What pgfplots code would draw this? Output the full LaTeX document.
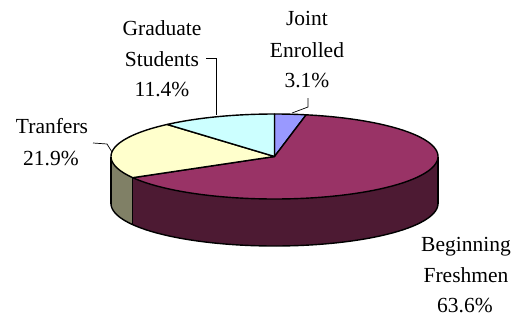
\documentclass[border=0pt]{standalone}
\usepackage{fontspec}
\setmainfont{Liberation Serif}
\usepackage{pgfplots}
\pgfplotsset{compat=1.18}
\usepackage{pgfplotstable}
\usepgfplotslibrary{fillbetween}

\definecolor{cJoint}{HTML}{9999FF}
\definecolor{cFresh}{HTML}{993366}
\definecolor{cTran}{HTML}{FFFFCC}
\definecolor{cGrad}{HTML}{CCFFFF}
\definecolor{sFresh}{HTML}{4D1A33}
\definecolor{sTran}{HTML}{808066}

\pgfplotstableread{
label value
Joint 3.1
Freshmen 63.6
Tranfers 21.9
Graduate 11.4
}\piedata
\pgfplotstablegetelem{0}{value}\of\piedata \let\vJ\pgfplotsretval
\pgfplotstablegetelem{1}{value}\of\piedata \let\vF\pgfplotsretval
\pgfplotstablegetelem{2}{value}\of\piedata \let\vT\pgfplotsretval
\pgfplotstablegetelem{3}{value}\of\piedata \let\vG\pgfplotsretval
\pgfmathsetmacro\aJ{90}
\pgfmathsetmacro\aF{\aJ-3.6*\vJ}
\pgfmathsetmacro\aT{\aF-3.6*\vF}
\pgfmathsetmacro\aG{\aT-3.6*\vT}
\pgfmathsetmacro\aE{\aG-3.6*\vG}
\def\cx{274.5}\def\cy{156.5}\def\rx{163.5}\def\ry{42.5}\def\dz{47}
\pgfmathsetmacro\xT{\cx+\rx*cos(\aT)}
\pgfmathsetmacro\yT{\cy-\ry*sin(\aT)}
\pgfmathsetmacro\yTb{\yT+\dz}
\pgfmathsetmacro\xL{\cx-\rx}
\pgfmathsetmacro\xR{\cx+\rx}
\pgfmathsetmacro\yB{\cy+\dz}

\begin{document}
\begin{tikzpicture}
\begin{axis}[scale only axis, width=524pt, height=317pt,
  xmin=0, xmax=524, ymin=0, ymax=317, y dir=reverse,
  hide axis, clip=false]
\path (rel axis cs:0,0) rectangle (rel axis cs:1,1);
% side faces
\addplot[draw=none, name path=ft, domain=\aT:0, samples=80] ({\cx+\rx*cos(x)},{\cy-\ry*sin(x)});
\addplot[draw=none, name path=fb, domain=\aT:0, samples=80] ({\cx+\rx*cos(x)},{\cy-\ry*sin(x)+\dz});
\addplot[sFresh] fill between[of=ft and fb];
\addplot[draw=none, name path=tt, domain=-180:\aT, samples=20] ({\cx+\rx*cos(x)},{\cy-\ry*sin(x)});
\addplot[draw=none, name path=tb, domain=-180:\aT, samples=20] ({\cx+\rx*cos(x)},{\cy-\ry*sin(x)+\dz});
\addplot[sTran] fill between[of=tt and tb];
% side outlines
\addplot[black, line width=1.4pt, domain=-180:0, samples=100] ({\cx+\rx*cos(x)},{\cy-\ry*sin(x)+\dz});
\addplot[black, line width=1.4pt] coordinates {(\xT,\yT) (\xT,\yTb)};
\addplot[black, line width=1.4pt] coordinates {(\xL,\cy) (\xL,\yB)};
\addplot[black, line width=1.4pt] coordinates {(\xR,\cy) (\xR,\yB)};
% top faces
\addplot[fill=cJoint, draw=black, line width=1.4pt, line join=round, domain=\aF:\aJ, samples=10] ({\cx+\rx*cos(x)},{\cy-\ry*sin(x)}) -- (axis cs:\cx,\cy) -- cycle;
\addplot[fill=cFresh, draw=black, line width=1.4pt, line join=round, domain=\aT:\aF, samples=120] ({\cx+\rx*cos(x)},{\cy-\ry*sin(x)}) -- (axis cs:\cx,\cy) -- cycle;
\addplot[fill=cTran, draw=black, line width=1.4pt, line join=round, domain=\aG:\aT, samples=40] ({\cx+\rx*cos(x)},{\cy-\ry*sin(x)}) -- (axis cs:\cx,\cy) -- cycle;
\addplot[fill=cGrad, draw=black, line width=1.4pt, line join=round, domain=\aE:\aG, samples=25] ({\cx+\rx*cos(x)},{\cy-\ry*sin(x)}) -- (axis cs:\cx,\cy) -- cycle;
% leader lines
\addplot[black, line width=0.7pt] coordinates {(206,58) (216,58) (216,115)};
\addplot[black, line width=0.7pt] coordinates {(308,98) (308,107) (292,113)};
\addplot[black, line width=0.7pt] coordinates {(93,143) (107,144) (112,152)};
% labels
\tikzset{lbl/.style={anchor=base, inner sep=0pt, font=\fontsize{21.5}{25}\selectfont}}
\node[lbl] at (axis cs:162,35) {Graduate};
\node[lbl] at (axis cs:162,66) {Students};
\node[lbl] at (axis cs:162,96.5) {11.4\%};
\node[lbl] at (axis cs:307,25) {Joint};
\node[lbl] at (axis cs:307,57) {Enrolled};
\node[lbl] at (axis cs:307,87) {3.1\%};
\node[lbl] at (axis cs:52,133) {Tranfers};
\node[lbl] at (axis cs:51,165) {21.9\%};
\node[lbl] at (axis cs:466,251) {Beginning};
\node[lbl] at (axis cs:466,282) {Freshmen};
\node[lbl] at (axis cs:465,312.5) {63.6\%};
\end{axis}
\end{tikzpicture}
\end{document}
